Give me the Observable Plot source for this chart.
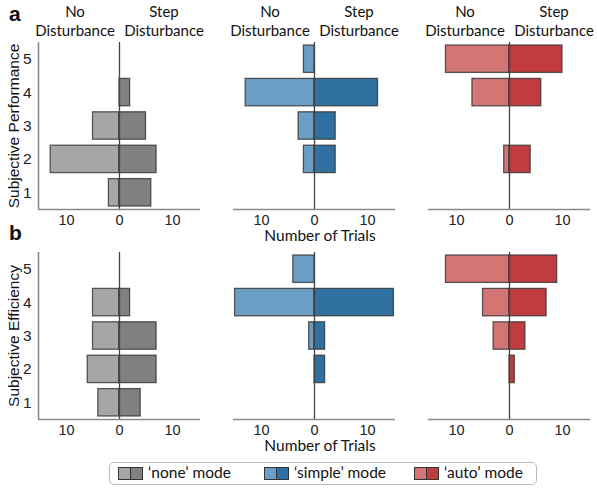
<!DOCTYPE html>
<html><head><meta charset="utf-8">
<script src="https://cdn.jsdelivr.net/npm/d3@7"></script>
<script src="https://cdn.jsdelivr.net/npm/@observablehq/plot@0.6"></script>
<style>
body{margin:0;background:#fff;}
#root{position:relative;width:597px;height:489px;overflow:hidden;font-family:Lato,"Liberation Sans",sans-serif;color:#111;}
.abs{position:absolute;}
.sw{position:absolute;width:11px;height:11px;border:1px solid #333;}
.lt{position:absolute;font-size:15.5px;line-height:1;}
</style>
</head><body><div id="root"></div>
<script>
// ---- data ----
const levels = [1, 2, 3, 4, 5];
const perfNoneNo   = [2, 13, 5, 0, 0];
const perfNoneStep = [6, 7, 5, 2, 0];
const perfSimpleNo   = [0, 2, 3, 13, 2];
const perfSimpleStep = [0, 4, 4, 12, 0];
const perfAutoNo   = [0, 1, 0, 7, 12];
const perfAutoStep = [0, 4, 0, 6, 10];
const effNoneNo   = [4, 6, 5, 5, 0];
const effNoneStep = [4, 7, 7, 2, 0];
const effSimpleNo   = [0, 0, 1, 15, 4];
const effSimpleStep = [0, 2, 2, 15, 0];
const effAutoNo   = [0, 0, 3, 5, 12];
const effAutoStep = [0, 1, 3, 7, 9];
const modes = ["‘none’ mode", "‘simple’ mode", "‘auto’ mode"];
const colorsNo   = ["#a6a6a6", "#6b9ec4", "#d37575"];
const colorsStep = ["#808080", "#2f71a0", "#c03c3e"];
const xTicks = [-10, 0, 10];
const headerTop = ["No", "Step"];
const headerBottom = ["Disturbance", "Disturbance"];

const root = document.getElementById("root");
const XMAX = 15.3;

function panel(noVals, stepVals, mi, withY, left, top) {
  const data = [];
  levels.forEach((lv, i) => {
    if (noVals[i] > 0) data.push({level: lv, x1: -noVals[i], x2: 0, side: "no"});
    if (stepVals[i] > 0) data.push({level: lv, x1: 0, x2: stepVals[i], side: "step"});
  });
  const ml = withY ? 38 : 10;
  const chart = Plot.plot({
    width: ml + 162 + 6,
    height: 4 + 167 + 28,
    marginLeft: ml, marginRight: 6, marginTop: 4, marginBottom: 28,
    style: {fontFamily: "Liberation Sans", fontSize: "14.5px", color: "#222"},
    x: {domain: [-XMAX, XMAX]},
    y: {domain: [0.5, 5.5]},
    marks: [
      Plot.rect(data, {
        x1: "x1", x2: "x2",
        y1: d => d.level - 0.41, y2: d => d.level + 0.41,
        fill: d => d.side === "no" ? colorsNo[mi] : colorsStep[mi],
        stroke: "#333", strokeOpacity: 0.8, strokeWidth: 1.3
      }),
      Plot.ruleX([0], {stroke: "#444", strokeWidth: 1.3}),
      Plot.ruleY([0.5], {stroke: "#8a8a8a", strokeWidth: 1.6}),
      withY ? Plot.ruleX([-XMAX], {stroke: "#8a8a8a", strokeWidth: 1.6}) : null,
      Plot.axisX({ticks: xTicks, tickFormat: d => String(Math.abs(d)), tickSize: 0, tickPadding: 5, label: null}),
      withY ? Plot.axisY({ticks: levels, tickFormat: d => String(d), tickSize: 0, tickPadding: 7, label: null, fontSize: 15.5}) : Plot.axisY({ticks: []})
    ]
  });
  chart.style.position = "absolute";
  chart.style.left = (left - ml) + "px";
  chart.style.top = (top - 4) + "px";
  root.appendChild(chart);
}

const lefts = [38, 233, 428];
const topVals = [[perfNoneNo, perfNoneStep], [perfSimpleNo, perfSimpleStep], [perfAutoNo, perfAutoStep]];
const botVals = [[effNoneNo, effNoneStep], [effSimpleNo, effSimpleStep], [effAutoNo, effAutoStep]];
for (let m = 0; m < 3; m++) {
  panel(topVals[m][0], topVals[m][1], m, m === 0, lefts[m], 42);
  panel(botVals[m][0], botVals[m][1], m, m === 0, lefts[m], 252);
}

function txt(html, css) {
  const d = document.createElement("div");
  d.className = "abs";
  d.innerHTML = html;
  Object.assign(d.style, css);
  root.appendChild(d);
  return d;
}
// column headers
lefts.forEach(L => {
  [[L + 37, 0], [L + 126, 1]].forEach(([cx, k]) => {
    txt(headerTop[k], {left: (cx - 50) + "px", top: "4px", width: "100px", textAlign: "center", fontSize: "15px", lineHeight: "1"});
    txt(headerBottom[k], {left: (cx - 50) + "px", top: "23px", width: "100px", textAlign: "center", fontSize: "15px", lineHeight: "1"});
  });
});
// panel letters
txt("a", {left: "9px", top: "3px", fontFamily: "Liberation Sans", fontWeight: "bold", fontSize: "21px", lineHeight: "1"});
txt("b", {left: "9px", top: "222px", fontFamily: "Liberation Sans", fontWeight: "bold", fontSize: "21px", lineHeight: "1"});
// y titles
txt("Subjective Performance", {left: "14px", top: "126px", fontFamily: "Liberation Sans", fontSize: "15.5px", lineHeight: "1", whiteSpace: "nowrap", transform: "translate(-50%,-50%) rotate(-90deg)"});
txt("Subjective Efficiency", {left: "14px", top: "336px", fontFamily: "Liberation Sans", fontSize: "15.5px", lineHeight: "1", whiteSpace: "nowrap", transform: "translate(-50%,-50%) rotate(-90deg)"});
// x titles
txt("Number of Trials", {left: "320px", top: "236px", fontSize: "15.5px", lineHeight: "1", whiteSpace: "nowrap", transform: "translate(-50%,-50%)"});
txt("Number of Trials", {left: "320px", top: "446px", fontSize: "15.5px", lineHeight: "1", whiteSpace: "nowrap", transform: "translate(-50%,-50%)"});
// legend
const lg = txt("", {left: "109px", top: "462px", width: "426px", height: "21px", border: "1.5px solid #bbb", borderRadius: "5px"});
const swX = [119, 265, 415];
modes.forEach((m, i) => {
  const a = document.createElement("div"); a.className = "sw";
  Object.assign(a.style, {left: (swX[i] - 111) + "px", top: "4px", background: colorsNo[i]});
  const b = document.createElement("div"); b.className = "sw";
  Object.assign(b.style, {left: (swX[i] - 111 + 12) + "px", top: "4px", background: colorsStep[i]});
  const t = document.createElement("div"); t.className = "lt";
  t.textContent = m;
  Object.assign(t.style, {left: (swX[i] - 111 + 30) + "px", top: "2px", whiteSpace: "nowrap"});
  lg.appendChild(a); lg.appendChild(b); lg.appendChild(t);
});
</script></body></html>
